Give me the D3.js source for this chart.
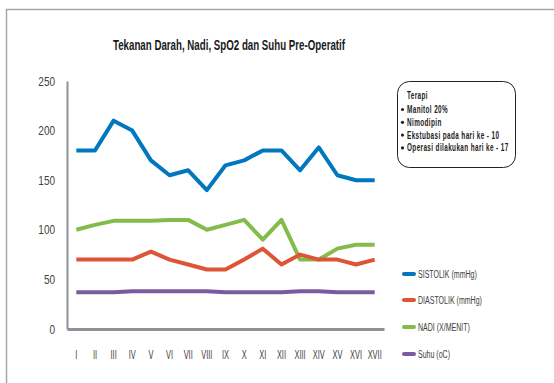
<!DOCTYPE html>
<html><head><meta charset="utf-8">
<script src="https://cdn.jsdelivr.net/npm/d3@7"></script>
<style>body{margin:0;background:#fff}svg{display:block}text{font-family:"Liberation Sans",Arial,sans-serif}</style>
</head><body><svg id="c" width="554" height="383"></svg>
<script>
const categories = ["I","II","III","IV","V","VI","VII","VIII","IX","X","XI","XII","XIII","XIV","XV","XVI","XVII"];
const sistolik  = [180,180,210,200,170,155,160,140,165,170,180,180,160,183,155,150,150];
const diastolik = [70,70,70,70,78,70,65,60,60,70,81,65,75,70,70,65,70];
const nadi      = [100,105,109,109,109,110,110,100,105,110,90,110,70,70,81,85,85];
const suhu      = [37,37,37,38,38,38,38,38,37,37,37,37,38,38,37,37,37];
const yTicks = [0,50,100,150,200,250];
const seriesNames = ["SISTOLIK (mmHg)","DIASTOLIK (mmHg)","NADI (X/MENIT)","Suhu (oC)"];
const seriesColors = ["#0077BE","#DD5536","#84BC4B","#7A5BA0"];
const title = "Tekanan Darah, Nadi, SpO2 dan Suhu Pre-Operatif";
const therapyHead = "Terapi";
const therapyItems = ["Manitol 20%","Nimodipin","Ekstubasi pada hari ke - 10","Operasi dilakukan hari ke - 17"];

const svg = d3.select("#c");
svg.append("path").attr("d","M6.5,383 L6.5,9.5 L554,9.5").attr("fill","none").attr("stroke","#a6a6a6").attr("stroke-width",1.5);

svg.append("text").attr("x",229).attr("y",50).attr("text-anchor","middle")
  .attr("font-size",14.5).attr("font-weight","bold").attr("fill","#1a1a1a")
  .attr("textLength",232).attr("lengthAdjust","spacingAndGlyphs").text(title);

const x = d3.scaleBand().domain(categories).range([67,384]);
const y = d3.scaleLinear().domain([0,250]).range([329,81]);

const ya = svg.append("g").attr("transform","translate(67,0)").call(d3.axisLeft(y).tickValues(yTicks).tickSize(0));
ya.select(".domain").attr("stroke","#8c9197").attr("stroke-width",2);
ya.selectAll("text").attr("x",-15).attr("font-size",12.5).attr("fill","#404040")
  .attr("font-family","'Liberation Sans',sans-serif").attr("transform","scale(0.8,1)");

const xa = svg.append("g").attr("transform","translate(0,329)").call(d3.axisBottom(x).tickSize(0).tickPadding(21));
xa.select(".domain").attr("stroke","#8c9197").attr("stroke-width",3);
xa.selectAll("text").attr("font-size",12).attr("fill","#404040")
  .attr("font-family","'Liberation Sans',sans-serif").attr("transform","scale(0.62,1)");

const all = [sistolik,diastolik,nadi,suhu];
const line = d3.line().x((d,i)=>x(categories[i])+x.bandwidth()/2).y(d=>y(d));
[3,2,1,0].forEach(k=>{
  svg.append("path").datum(all[k]).attr("d",line).attr("fill","none")
    .attr("stroke",seriesColors[k]).attr("stroke-width",4).attr("stroke-linejoin","round");
});

const legY = [274,300,327,354];
seriesNames.forEach((n,i)=>{
  svg.append("rect").attr("x",402).attr("y",legY[i]-2).attr("width",14).attr("height",4).attr("rx",2)
    .attr("fill",seriesColors[i]);
  svg.append("g").attr("transform",`translate(418,${legY[i]+3.5}) scale(0.64,1)`)
    .append("text").attr("font-size",11).attr("fill","#404040").text(n);
});

svg.append("rect").attr("x",397.5).attr("y",81.5).attr("width",118).attr("height",86).attr("rx",12)
  .attr("fill","#fff").attr("stroke","#222").attr("stroke-width",1);
svg.append("g").attr("transform","translate(407,99) scale(0.64,1)")
  .append("text").attr("font-size",10).attr("font-weight","bold").attr("fill","#222")
  .attr("letter-spacing",0.6).text(therapyHead);
therapyItems.forEach((t,i)=>{
  const yy = 113 + i*12.8;
  svg.append("circle").attr("cx",402.5).attr("cy",yy-3.5).attr("r",1.6).attr("fill","#222");
  svg.append("g").attr("transform",`translate(407,${yy}) scale(0.64,1)`)
    .append("text").attr("font-size",10).attr("font-weight","bold").attr("fill","#222")
    .attr("letter-spacing",0.6).text(t);
});
</script></body></html>
